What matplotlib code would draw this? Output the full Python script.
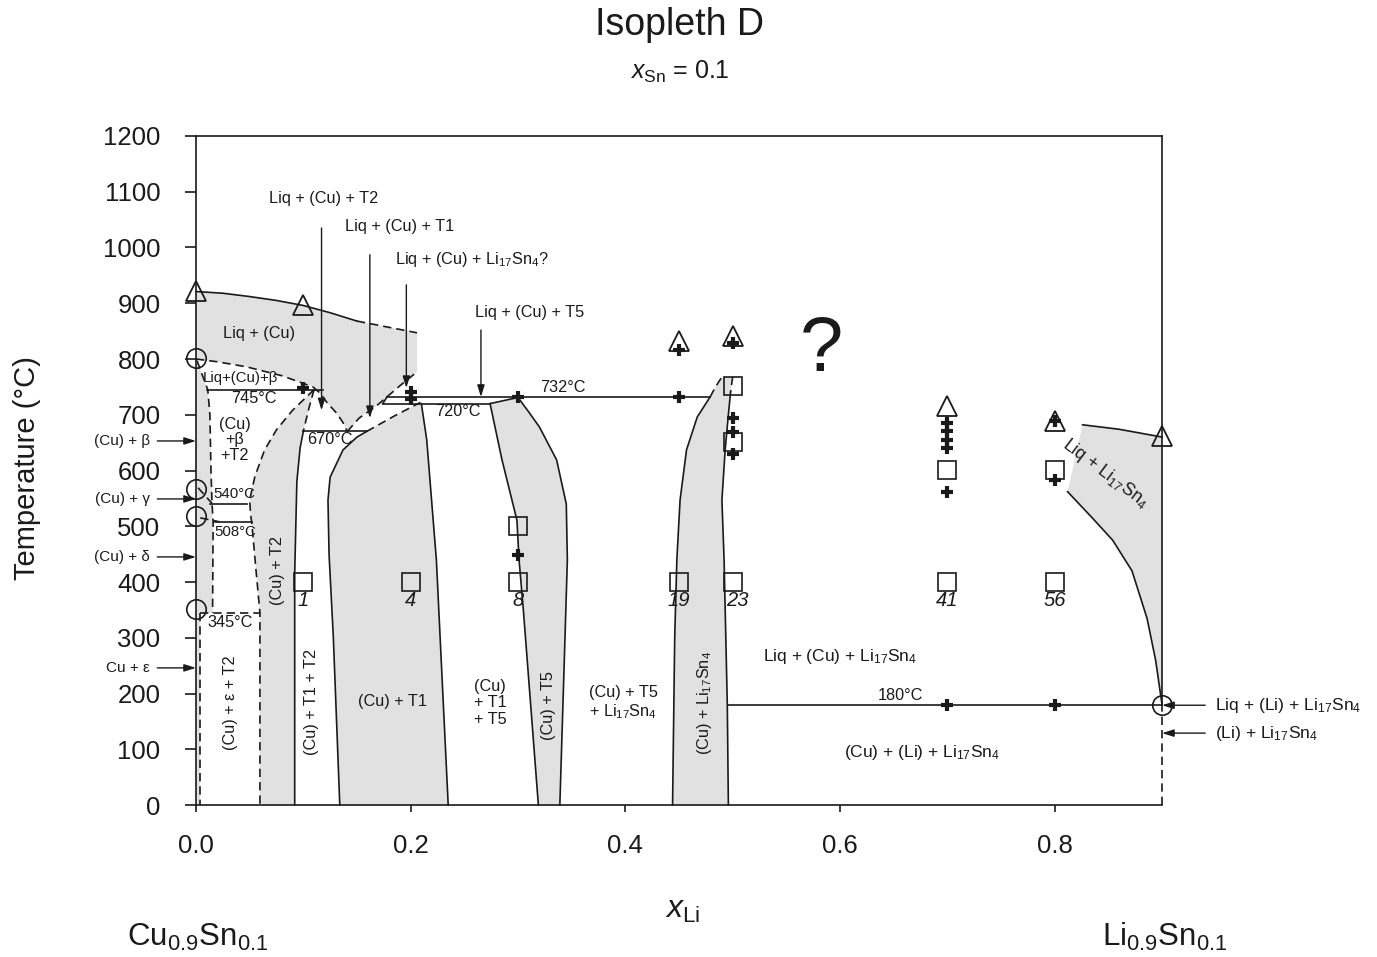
import matplotlib
matplotlib.use("Agg")
import matplotlib.pyplot as plt
from matplotlib.patches import Polygon

plt.rcParams['font.family'] = ['Liberation Sans', 'DejaVu Sans']
plt.rcParams['mathtext.fontset'] = 'custom'
plt.rcParams['mathtext.rm'] = 'Liberation Sans'
plt.rcParams['mathtext.it'] = 'Liberation Sans:italic'
plt.rcParams['mathtext.bf'] = 'Liberation Sans:bold'

GRAY = '#e1e1e1'
INK = '#1a1a1a'

# ---- phase boundaries (x_Li, T in degC) ----
liq_solid_x = [0.0, 0.025, 0.05, 0.075, 0.10, 0.125, 0.15]
liq_solid_T = [921, 918, 912, 905, 896, 883, 868]
liq_dash_x = [0.15, 0.206]
liq_dash_T = [868, 847]

cu_liq_x = [0.0, 0.02, 0.047, 0.08, 0.109]
cu_liq_T = [800, 795, 786, 770, 750]
v_left_x = [0.109, 0.116, 0.122, 0.131, 0.137, 0.141]
v_left_T = [750, 738, 722, 703, 686, 670]
v_right_x = [0.141, 0.146, 0.152, 0.167, 0.19, 0.206]
v_right_T = [670, 681, 694, 714, 752, 777]

cu_solvus_x = [0.001, 0.011, 0.013, 0.014, 0.015, 0.016, 0.0155]
cu_solvus_T = [797, 745, 700, 600, 540, 508, 345]
cu_low_x = [0.004, 0.004]
cu_low_T = [345, 0]

t2_left_x = [0.11, 0.09, 0.075, 0.064, 0.055, 0.05, 0.051, 0.052, 0.056, 0.0596, 0.0596]
t2_left_T = [745, 708, 673, 637, 590, 547, 520, 506, 420, 345, 0]
t2_rdash_x = [0.11, 0.105, 0.1]
t2_rdash_T = [745, 710, 670]
t2_right_x = [0.1, 0.097, 0.094, 0.092, 0.092]
t2_right_T = [670, 640, 580, 416, 0]

t1_left_x = [0.159, 0.15, 0.137, 0.125, 0.123, 0.124, 0.128, 0.131, 0.134]
t1_left_T = [670, 660, 637, 588, 547, 450, 300, 150, 0]
t1_top_x = [0.159, 0.185, 0.209]
t1_top_T = [670, 698, 722]
t1_right_x = [0.21, 0.215, 0.224, 0.235]
t1_right_T = [720, 655, 439, 0]

t5_left_x = [0.274, 0.285, 0.299, 0.301, 0.305, 0.311, 0.319]
t5_left_T = [720, 620, 511, 440, 350, 200, 0]
t5_right_x = [0.3, 0.31, 0.32, 0.336, 0.345, 0.346, 0.343, 0.339]
t5_right_T = [731, 705, 678, 619, 540, 440, 250, 0]

ls_left_x = [0.444, 0.446, 0.448, 0.451, 0.457, 0.467, 0.479]
ls_left_T = [0, 300, 440, 547, 637, 696, 732]
ls_ldash_x = [0.479, 0.484, 0.49]
ls_ldash_T = [732, 750, 768]
ls_rdash_x = [0.5, 0.498]
ls_rdash_T = [768, 740]
ls_right_x = [0.498, 0.496, 0.493, 0.49, 0.492, 0.495, 0.496]
ls_right_T = [740, 700, 637, 547, 440, 180, 0]

li_top_x = [0.826, 0.86, 0.9]
li_top_T = [682, 674, 660]
li_low_x = [0.812, 0.835, 0.854, 0.872, 0.886, 0.894, 0.9]
li_low_T = [562, 515, 475, 420, 335, 260, 180]

# invariant temperatures: (T, x_start, x_end)
inv_solid = [(745, 0.010, 0.118), (670, 0.1, 0.159), (540, 0.013, 0.048),
             (508, 0.018, 0.052), (732, 0.178, 0.479), (720, 0.174, 0.274),
             (180, 0.496, 0.9)]
inv_dashed = [(345, 0.004, 0.06)]

# ---- experimental points ----
tri_x = [0.0, 0.1, 0.45, 0.5, 0.7, 0.8, 0.9]
tri_T = [922, 897, 832, 841, 716, 689, 662]
circ_x = [0.0, 0.0, 0.0, 0.0, 0.9]
circ_T = [802, 567, 518, 352, 179]
sq_x = [0.1, 0.2, 0.3, 0.3, 0.45, 0.5, 0.5, 0.5, 0.7, 0.7, 0.8, 0.8]
sq_T = [400, 400, 400, 500, 400, 400, 752, 651, 400, 601, 400, 601]
plus_x = [0.1, 0.2, 0.2, 0.3, 0.3, 0.45, 0.45, 0.5, 0.5, 0.5, 0.5,
          0.7, 0.7, 0.7, 0.7, 0.7, 0.8, 0.8, 0.7, 0.8]
plus_T = [748, 741, 728, 731, 448, 731, 816, 829, 694, 669, 630,
          685, 670, 655, 641, 561, 688, 583, 180, 180]
num_x = [0.1, 0.2, 0.3, 0.45, 0.504, 0.7, 0.8]
num_lbl = ['1', '4', '8', '19', '23', '41', '56']

left_lbl = ['(Cu) + β', '(Cu) + γ', '(Cu) + δ', 'Cu + ε']
left_T = [653, 549, 445, 246]
right_lbl = ['Liq + (Li) + Li$_{17}$Sn$_4$', '(Li) + Li$_{17}$Sn$_4$']
right_T = [179, 129]

fig = plt.figure(figsize=(13.77, 9.57), dpi=100)
ax = fig.add_axes([0.1423, 0.1588, 0.7016, 0.6991])
ax.set_xlim(0, 0.9)
ax.set_ylim(0, 1200)


def line(xs, ts, dashed=False, z=2):
    ax.plot(xs, ts, color=INK, lw=1.2, zorder=z, clip_on=False,
            linestyle=(0, (5, 3)) if dashed else '-')


def fill(xs, ts):
    ax.add_patch(Polygon(list(zip(xs, ts)), closed=True, facecolor=GRAY,
                         edgecolor='none', zorder=1))


# gray single/two phase fields
fill(liq_solid_x + liq_dash_x[1:] + [0.206] + v_right_x[::-1][1:] + v_left_x[::-1][1:] + cu_liq_x[::-1][1:],
     liq_solid_T + liq_dash_T[1:] + [777] + v_right_T[::-1][1:] + v_left_T[::-1][1:] + cu_liq_T[::-1][1:])
fill([0.0] + cu_solvus_x + cu_low_x + [0.0], [800] + cu_solvus_T + cu_low_T + [0])
fill(t2_left_x + t2_right_x[::-1] + t2_rdash_x[::-1][1:],
     t2_left_T + t2_right_T[::-1] + t2_rdash_T[::-1][1:])
fill(t1_top_x + t1_right_x + t1_left_x[::-1], t1_top_T + t1_right_T + t1_left_T[::-1])
fill(t5_left_x + t5_right_x[::-1], t5_left_T + t5_right_T[::-1])
fill(ls_left_x + ls_ldash_x[1:] + ls_rdash_x + ls_right_x[1:],
     ls_left_T + ls_ldash_T[1:] + ls_rdash_T + ls_right_T[1:])
fill(li_top_x + li_low_x[::-1], li_top_T + li_low_T[::-1])

# boundaries
line(liq_solid_x, liq_solid_T)
line(liq_dash_x, liq_dash_T, True)
line(cu_liq_x, cu_liq_T, True)
line(v_left_x, v_left_T, True)
line(v_right_x, v_right_T, True)
line(cu_solvus_x, cu_solvus_T, True)
line(cu_low_x, cu_low_T, True)
line([0.002, 0.015], [569, 541], True)
line([0.004, 0.022], [515, 508], True)
line(t2_left_x, t2_left_T, True)
line(t2_rdash_x, t2_rdash_T, True)
line(t2_right_x, t2_right_T)
line(t1_left_x, t1_left_T)
line(t1_top_x, t1_top_T, True)
line(t1_right_x, t1_right_T)
line(t5_left_x, t5_left_T)
line(t5_right_x, t5_right_T)
line([0.274, 0.3], [720, 731])
line([0.174, 0.178], [720, 732])
line(ls_left_x, ls_left_T)
line(ls_ldash_x, ls_ldash_T, True)
line(ls_rdash_x, ls_rdash_T, True)
line(ls_right_x, ls_right_T)
line(li_top_x, li_top_T)
line(li_low_x, li_low_T)
for t, x0, x1 in inv_solid:
    line([x0, x1], [t, t])
for t, x0, x1 in inv_dashed:
    line([x0, x1], [t, t], True)

# right edge: solid above 180 degC, dashed below
ax.spines['right'].set_visible(False)
line([0.9, 0.9], [180, 1200], z=2)
line([0.9, 0.9], [0, 180], True)

# markers
mk = dict(linestyle='none', color=INK, clip_on=False, zorder=3)
ax.plot(tri_x, tri_T, marker='^', ms=15, mfc='none', mew=1.3, **mk)
ax.plot(circ_x, circ_T, marker='o', ms=14, mfc='none', mew=1.2, **mk)
ax.plot(sq_x, sq_T, marker='s', ms=12.5, mfc='none', mew=1.2, **mk)
ax.plot(plus_x, plus_T, marker='+', ms=9, mew=3.0, **mk)
for x, s in zip(num_x, num_lbl):
    ax.text(x, 366, s, fontsize=14.5, style='italic', ha='center', va='center', color=INK)

# region labels
fs = 11.7
txt = dict(ha='center', va='center', color=INK, fontsize=fs, zorder=4)
ax.text(0.0587, 845, 'Liq + (Cu)', **txt)
ax.text(0.041, 766, 'Liq+(Cu)+β', **{**txt, 'fontsize': 10.8})
ax.text(0.054, 730, '745°C', **txt)
ax.text(0.036, 655, '(Cu)\n+β\n+T2', linespacing=1.05, **txt)
ax.text(0.125, 655, '670°C', **txt)
ax.text(0.0354, 558, '540°C', **{**txt, 'fontsize': 10.8})
ax.text(0.037, 490, '508°C', **{**txt, 'fontsize': 10.8})
ax.text(0.032, 328, '345°C', **txt)
ax.text(0.0764, 421, '(Cu) + T2', rotation=90, **txt)
ax.text(0.032, 183, '(Cu) + ε + T2', rotation=90, **txt)
ax.text(0.108, 185, '(Cu) + T1 + T2', rotation=90, **txt)
ax.text(0.1835, 185, '(Cu) + T1', **txt)
ax.text(0.274, 183, '(Cu)\n+ T1\n+ T5', linespacing=1.1, **txt)
ax.text(0.328, 179, '(Cu) + T5', rotation=90, **txt)
ax.text(0.398, 183, '(Cu) + T5\n+ Li$_{17}$Sn$_4$', linespacing=1.1, **txt)
ax.text(0.474, 183, '(Cu) + Li$_{17}$Sn$_4$', rotation=90, **txt)
ax.text(0.60, 267, 'Liq + (Cu) + Li$_{17}$Sn$_4$', **{**txt, 'fontsize': 12.5})
ax.text(0.656, 196, '180°C', **txt)
ax.text(0.676, 95, '(Cu) + (Li) + Li$_{17}$Sn$_4$', **{**txt, 'fontsize': 12.5})
ax.text(0.342, 748, '732°C', **txt)
ax.text(0.244, 705, '720°C', **txt)
ax.text(0.847, 594, 'Liq + Li$_{17}$Sn$_4$', rotation=-37, **{**txt, 'fontsize': 12.8})
ax.text(0.583, 816, '?', fontsize=56, ha='center', va='center', color=INK)

arr = dict(arrowstyle='-|>,head_length=0.7,head_width=0.22', color=INK, lw=1.0,
           shrinkA=0, shrinkB=0)
top_lbl = [('Liq + (Cu) + T2', 0.1186, 1087, 0.117, 1035, 708),
           ('Liq + (Cu) + T1', 0.19, 1037, 0.162, 987, 694),
           ('Liq + (Cu) + Li$_{17}$Sn$_4$?', 0.257, 978, 0.196, 933, 748),
           ('Liq + (Cu) + T5', 0.311, 884, 0.2655, 852, 732)]
for s, tx, ty, ax_x, y0, y1 in top_lbl:
    ax.text(tx, ty, s, **txt)
    ax.annotate('', xy=(ax_x, y1), xytext=(ax_x, y0), arrowprops=arr, zorder=4)

for s, t in zip(left_lbl, left_T):
    ax.text(-0.043, t, s, ha='right', va='center', fontsize=11, color=INK)
    ax.annotate('', xy=(0.0, t), xytext=(-0.036, t), arrowprops=arr,
                annotation_clip=False)
for s, t in zip(right_lbl, right_T):
    ax.text(0.9495, t, s, ha='left', va='center', fontsize=12.6, color=INK)
    ax.annotate('', xy=(0.9, t), xytext=(0.9402, t), arrowprops=arr,
                annotation_clip=False)

# axes styling
for sp in ['left', 'top', 'bottom']:
    ax.spines[sp].set_linewidth(1.2)
    ax.spines[sp].set_color(INK)
ax.set_xticks([0.0, 0.2, 0.4, 0.6, 0.8])
ax.set_xticklabels(['0.0', '0.2', '0.4', '0.6', '0.8'])
ax.set_yticks(range(0, 1201, 100))
ax.tick_params(axis='y', direction='out', length=8, width=1.2, pad=17.5,
               labelsize=18.5, colors=INK)
ax.tick_params(axis='x', direction='out', length=5, width=1.2, pad=16,
               labelsize=18.5, colors=INK)

fig.text(0.4938, 0.9739, 'Isopleth D', fontsize=27, ha='center', va='center', color=INK)
fig.text(0.4938, 0.9248, r'$x_{\mathrm{Sn}}$ = 0.1', fontsize=18, ha='center', va='center', color=INK)
fig.text(0.496, 0.0491, r'$x_{\mathrm{Li}}$', fontsize=23, ha='center', va='center', color=INK)
fig.text(0.0196, 0.511, 'Temperature (°C)', rotation=90, fontsize=21, ha='center', va='center', color=INK)
fig.text(0.1438, 0.0209, r'Cu$_{0.9}$Sn$_{0.1}$', fontsize=22.5, ha='center', va='center', color=INK)
fig.text(0.846, 0.0209, r'Li$_{0.9}$Sn$_{0.1}$', fontsize=22.5, ha='center', va='center', color=INK)

fig.savefig('out.png', dpi=100, facecolor='white')
